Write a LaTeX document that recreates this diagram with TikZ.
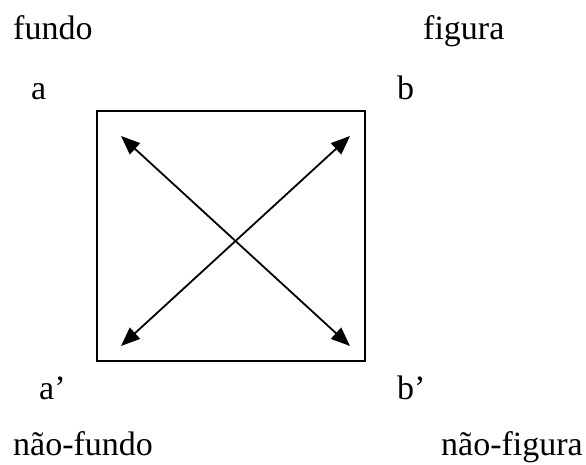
\documentclass[tikz,border=0pt]{standalone}
\usepackage{fontspec}
\setmainfont{Liberation Serif}
\usetikzlibrary{arrows.meta}
\begin{document}
\begin{tikzpicture}[x=1pt,y=-1pt,
  lbl/.style={anchor=base west,inner sep=0pt,font=\fontsize{34}{40}\selectfont},
  frame/.style={draw,line width=2pt},
  dbl/.style={line width=1.8pt,{Triangle[length=19pt,width=15pt]}-{Triangle[length=19pt,width=15pt]}}]
\useasboundingbox (0,0) rectangle (586,464);
\node[frame,minimum width=268pt,minimum height=250pt,inner sep=0pt] (box) at (231,236) {};
\coordinate (tl) at (121,136);
\coordinate (tr) at (350,136);
\coordinate (bl) at (121,346);
\coordinate (br) at (350,346);
\draw[dbl] (tl) -- (br);
\draw[dbl] (tr) -- (bl);
\node[lbl] (fundo) at (13,39) {fundo};
\node[lbl] (figura) at (423,39) {figura};
\node[lbl] (a) at (31,99) {a};
\node[lbl] (b) at (397,99) {b};
\node[lbl] (ap) at (39,399) {a’};
\node[lbl] (bp) at (397,399) {b’};
\node[lbl] (nfundo) at (13,455) {não-fundo};
\node[lbl] (nfigura) at (441,455) {não-figura};
\end{tikzpicture}
\end{document}
